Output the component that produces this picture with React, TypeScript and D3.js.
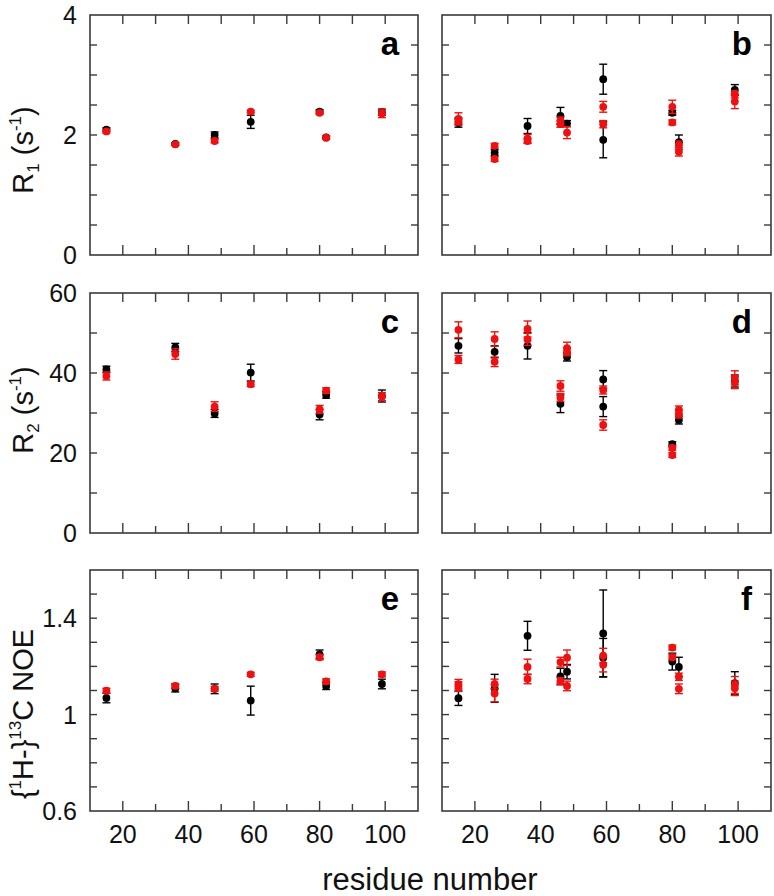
import React from "react";
import * as d3 from "d3";

type Pt = [number, number, number]; // residue, value, error

const xTickValues = [20, 30, 40, 50, 60, 70, 80, 90, 100];
const xTickLabels = [20, 40, 60, 80, 100];

// R1 (s^-1)
const aBlack: Pt[] = [[15, 2.09, 0.03], [36, 1.85, 0.02], [48, 2.0, 0.05], [59, 2.22, 0.11], [80, 2.39, 0.03], [82, 1.96, 0.02], [99, 2.38, 0.05]];
const aRed: Pt[] = [[15, 2.06, 0.03], [36, 1.845, 0.02], [48, 1.9, 0.03], [59, 2.39, 0.02], [80, 2.37, 0.03], [82, 1.955, 0.02], [99, 2.36, 0.07]];
const bBlack: Pt[] = [[15, 2.2, 0.07], [26, 1.705, 0.05], [36, 2.15, 0.125], [46, 2.32, 0.14], [48, 2.19, 0.05], [59, 2.93, 0.25], [59, 1.92, 0.3], [80, 2.37, 0.04], [82, 1.88, 0.12], [99, 2.75, 0.09]];
const bRed: Pt[] = [[15, 2.27, 0.1], [15, 2.23, 0.06], [26, 1.82, 0.04], [26, 1.6, 0.04], [36, 1.94, 0.07], [36, 1.9, 0.04], [46, 2.24, 0.06], [46, 2.18, 0.05], [48, 2.04, 0.1], [59, 2.47, 0.09], [59, 2.18, 0.06], [80, 2.47, 0.11], [80, 2.21, 0.04], [82, 1.83, 0.07], [82, 1.72, 0.07], [99, 2.68, 0.06], [99, 2.56, 0.12]];

// R2 (s^-1)
const cBlack: Pt[] = [[15, 40.9, 0.8], [36, 46.4, 1.0], [48, 29.9, 1.0], [59, 40.1, 2.1], [80, 29.6, 1.3], [82, 34.5, 0.8], [99, 34.25, 1.5]];
const cRed: Pt[] = [[15, 39.25, 1.0], [36, 44.75, 1.3], [48, 31.6, 1.2], [59, 37.2, 0.6], [80, 30.9, 1.0], [82, 35.6, 0.7], [99, 34.1, 1.0]];
const dBlack: Pt[] = [[15, 46.8, 1.8], [26, 45.3, 1.5], [36, 46.8, 3.3], [46, 32.3, 2.2], [48, 44.0, 1.0], [59, 38.4, 2.2], [59, 31.6, 2.5], [80, 22.2, 0.6], [82, 28.25, 1.0], [99, 38.0, 1.5]];
const dRed: Pt[] = [[15, 50.8, 2.0], [15, 43.4, 1.0], [26, 48.5, 1.8], [26, 42.8, 1.2], [36, 51.0, 2.0], [36, 48.4, 1.5], [46, 36.75, 1.3], [46, 33.9, 1.0], [48, 46.2, 1.5], [48, 45.3, 1.0], [59, 35.75, 1.0], [59, 27.0, 1.3], [80, 21.3, 0.6], [80, 19.5, 0.6], [82, 30.75, 1.0], [82, 29.75, 1.0], [99, 38.8, 1.75], [99, 37.6, 1.5]];

// {1H-}13C NOE
const eBlack: Pt[] = [[15, 1.069, 0.02], [36, 1.109, 0.015], [48, 1.107, 0.02], [59, 1.058, 0.06], [80, 1.25, 0.018], [82, 1.119, 0.015], [99, 1.127, 0.02]];
const eRed: Pt[] = [[15, 1.099, 0.01], [36, 1.119, 0.01], [48, 1.107, 0.01], [59, 1.167, 0.008], [80, 1.238, 0.01], [82, 1.138, 0.01], [99, 1.167, 0.01]];
const fBlack: Pt[] = [[15, 1.068, 0.03], [26, 1.109, 0.058], [36, 1.327, 0.06], [46, 1.159, 0.033], [48, 1.178, 0.03], [59, 1.337, 0.18], [59, 1.236, 0.08], [80, 1.22, 0.035], [82, 1.198, 0.04], [99, 1.13, 0.048]];
const fRed: Pt[] = [[15, 1.126, 0.02], [15, 1.116, 0.02], [26, 1.127, 0.02], [26, 1.088, 0.035], [36, 1.198, 0.032], [36, 1.148, 0.02], [46, 1.218, 0.02], [46, 1.138, 0.015], [48, 1.236, 0.032], [48, 1.119, 0.02], [59, 1.245, 0.03], [59, 1.207, 0.03], [80, 1.278, 0.01], [80, 1.238, 0.01], [82, 1.157, 0.015], [82, 1.107, 0.02], [99, 1.123, 0.035], [99, 1.109, 0.03]];

const r1Ticks = [0.5, 1, 1.5, 2, 2.5, 3, 3.5];
const r1Labels = ["0", "2", "4"];
const r2Ticks = [10, 20, 30, 40, 50];
const r2Labels = ["0", "20", "40", "60"];
const noeTicks = [0.7, 0.8, 0.9, 1.0, 1.1, 1.2, 1.3, 1.4, 1.5];
const noeLabels = ["0.6", "1", "1.4"];

const FONT = "'Liberation Sans', Arial, Helvetica, sans-serif";
const RED = "#ee1111";
const AXIS = "#3a3a3a";

const colX: [number, number][] = [[90, 418], [442, 771]];
const rowY: [number, number][] = [[15, 255], [293, 533], [570, 811]];

interface PanelProps {
  x0: number; x1: number; y0: number; y1: number;
  domain: [number, number]; yTicks: number[]; yLabels: string[] | null;
  black: Pt[]; red: Pt[]; letter: string; showX: boolean;
}

function Panel({ x0, x1, y0, y1, domain, yTicks, yLabels, black, red, letter, showX }: PanelProps) {
  const x = d3.scaleLinear().domain([10, 110]).range([x0, x1]);
  const y = d3.scaleLinear().domain(domain).range([y1, y0]);
  const cap = 4;
  const marks = (data: Pt[], color: string, key: string) =>
    data.map((p, i) => {
      const cx = x(p[0]);
      const cy = y(p[1]);
      const top = y(p[1] + p[2]);
      const bot = y(p[1] - p[2]);
      return (
        <g key={key + i}>
          <line x1={cx} x2={cx} y1={top} y2={bot} stroke={color} strokeWidth={1.4} />
          <line x1={cx - cap} x2={cx + cap} y1={top} y2={top} stroke={color} strokeWidth={1.4} />
          <line x1={cx - cap} x2={cx + cap} y1={bot} y2={bot} stroke={color} strokeWidth={1.4} />
          <circle cx={cx} cy={cy} r={3.9} fill={color} />
        </g>
      );
    });
  return (
    <g>
      {xTickValues.map((t) => {
        const major = t % 20 === 0;
        return (
          <g key={"xt" + t}>
            <line x1={x(t)} x2={x(t)} y1={y1} y2={y1 - (major ? 10 : 7)} stroke={AXIS} strokeWidth={1.4} />
            <line x1={x(t)} x2={x(t)} y1={y0} y2={y0 + 9} stroke={AXIS} strokeWidth={1.4} />
          </g>
        );
      })}
      {yTicks.map((t) => (
        <g key={"yt" + t}>
          <line x1={x0} x2={x0 + 7} y1={y(t)} y2={y(t)} stroke={AXIS} strokeWidth={1.4} />
          <line x1={x1} x2={x1 - 7} y1={y(t)} y2={y(t)} stroke={AXIS} strokeWidth={1.4} />
        </g>
      ))}
      <rect x={x0} y={y0} width={x1 - x0} height={y1 - y0} fill="none" stroke={AXIS} strokeWidth={1.6} />
      {yLabels &&
        yLabels.map((l) => (
          <text key={"yl" + l} x={x0 - 13} y={y(+l)} dy="0.36em" textAnchor="end" fontSize={25} fontFamily={FONT} fill="#111">
            {l}
          </text>
        ))}
      {showX &&
        xTickLabels.map((t) => (
          <text key={"xl" + t} x={x(t)} y={843} textAnchor="middle" fontSize={25} fontFamily={FONT} fill="#111">
            {t}
          </text>
        ))}
      {marks(black, "#000", "b")}
      {marks(red, RED, "r")}
      <text x={x1 - 19} y={y0 + 40} textAnchor="end" fontSize={33} fontWeight="bold" fontFamily={FONT} fill="#000">
        {letter}
      </text>
    </g>
  );
}

export default function App() {
  const rows = [
    { domain: [0, 4] as [number, number], ticks: r1Ticks, labels: r1Labels, left: [aBlack, aRed], right: [bBlack, bRed], letters: ["a", "b"] },
    { domain: [0, 60] as [number, number], ticks: r2Ticks, labels: r2Labels, left: [cBlack, cRed], right: [dBlack, dRed], letters: ["c", "d"] },
    { domain: [0.6, 1.6] as [number, number], ticks: noeTicks, labels: noeLabels, left: [eBlack, eRed], right: [fBlack, fRed], letters: ["e", "f"] },
  ];
  return (
    <svg width={774} height={896} style={{ position: "absolute", left: 0, top: 0, background: "#fff" }}>
      <rect width={774} height={896} fill="#fff" />
      {rows.map((r, ri) => (
        <g key={ri}>
          <Panel x0={colX[0][0]} x1={colX[0][1]} y0={rowY[ri][0]} y1={rowY[ri][1]} domain={r.domain} yTicks={r.ticks} yLabels={r.labels}
            black={r.left[0]} red={r.left[1]} letter={r.letters[0]} showX={ri === 2} />
          <Panel x0={colX[1][0]} x1={colX[1][1]} y0={rowY[ri][0]} y1={rowY[ri][1]} domain={r.domain} yTicks={r.ticks} yLabels={null}
            black={r.right[0]} red={r.right[1]} letter={r.letters[1]} showX={ri === 2} />
        </g>
      ))}
      <g fontFamily={FONT} fontSize={29} fill="#111">
        <text transform="translate(33,150) rotate(-90)" textAnchor="middle">
          R<tspan fontSize={17} dy={6}>1</tspan>
          <tspan dy={-6}> (s</tspan>
          <tspan fontSize={17} dy={-12}>-1</tspan>
          <tspan dy={12}>)</tspan>
        </text>
        <text transform="translate(33,410) rotate(-90)" textAnchor="middle">
          R<tspan fontSize={17} dy={6}>2</tspan>
          <tspan dy={-6}> (s</tspan>
          <tspan fontSize={17} dy={-12}>-1</tspan>
          <tspan dy={12}>)</tspan>
        </text>
        <text transform="translate(33,714) rotate(-90)" textAnchor="middle">
          {"{"}
          <tspan fontSize={17} dy={-12}>1</tspan>
          <tspan dy={12}>H-{"}"}</tspan>
          <tspan fontSize={17} dy={-12}>13</tspan>
          <tspan dy={12}>C NOE</tspan>
        </text>
        <text x={430} y={890} textAnchor="middle" fontSize={31}>residue number</text>
      </g>
    </svg>
  );
}
